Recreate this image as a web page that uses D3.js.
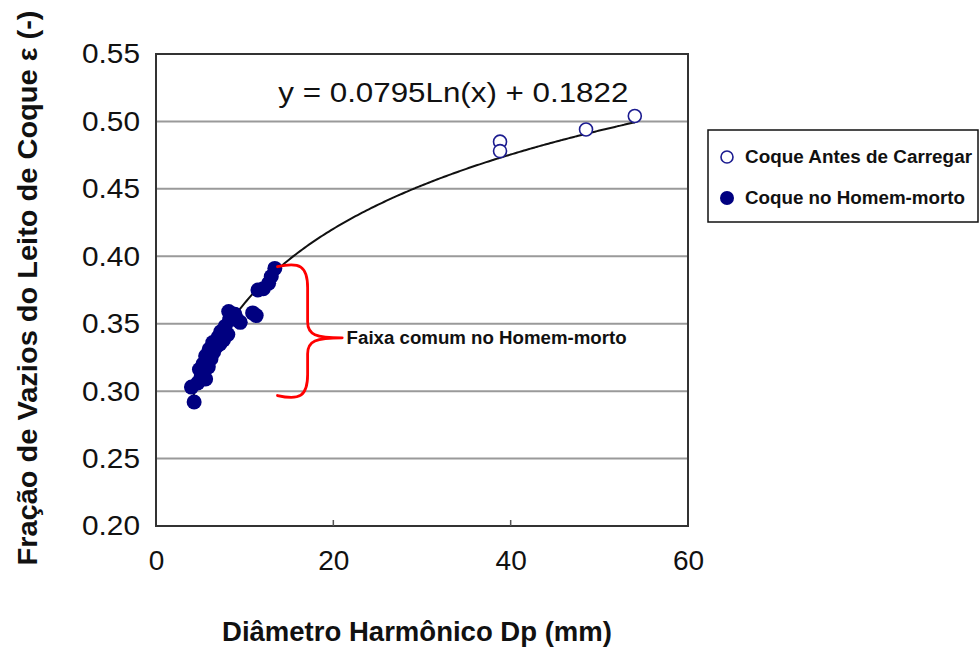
<!DOCTYPE html>
<html>
<head>
<meta charset="utf-8">
<script src="https://cdn.jsdelivr.net/npm/d3@7"></script>
<style>
  html, body { margin: 0; padding: 0; background: #fff; }
  svg { display: block; font-family: "Liberation Sans", Arial, sans-serif; }
</style>
</head>
<body>
<svg id="chart" width="980" height="648"></svg>
<script>
// Coke bed void fraction vs. harmonic diameter
const xTicks = [0, 20, 40, 60];
const yTicks = [0.20, 0.25, 0.30, 0.35, 0.40, 0.45, 0.50, 0.55];

// Coke before charging (open markers)
const chargedX = [38.8, 38.8, 48.5, 54.0];
const chargedY = [0.485, 0.478, 0.494, 0.504];

// Deadman coke (filled markers)
const deadmanX = [4.3, 4.0, 4.7, 5.1, 5.6, 4.9, 5.3, 5.9, 5.6, 6.2, 6.5, 6.0, 6.8, 6.4,
                  7.2, 7.0, 7.6, 7.3, 8.1, 7.8, 8.3, 8.2, 9.1, 9.5, 8.9, 10.9, 11.3,
                  11.5, 12.1, 12.7, 13.0, 13.4];
const deadmanY = [0.292, 0.303, 0.306, 0.311, 0.309, 0.316, 0.320, 0.318, 0.326, 0.324,
                  0.329, 0.331, 0.333, 0.336, 0.335, 0.340, 0.338, 0.344, 0.342, 0.348,
                  0.353, 0.359, 0.353, 0.351, 0.357, 0.358, 0.356, 0.375, 0.376, 0.380,
                  0.385, 0.391];

// Logarithmic fit: y = a ln(x) + b
const fitA = 0.0795, fitB = 0.1822;
const fitRange = [4.0, 54.0];

// Bracket marking the usual deadman range
const braceYRange = [0.296, 0.393];

const svg = d3.select("#chart");
const plot = { left: 156, top: 54, width: 532, height: 472 };

const x = d3.scaleLinear().domain([0, 60]).range([plot.left, plot.left + plot.width]);
const y = d3.scaleLinear().domain([0.20, 0.55]).range([plot.top + plot.height, plot.top]);

const navy = "#000080";
const font = "'Liberation Sans', Arial, sans-serif";

// Horizontal gridlines
svg.append("g")
  .selectAll("line")
  .data(yTicks.filter(v => v > 0.2 && v < 0.55))
  .join("line")
  .attr("x1", x(0)).attr("x2", x(60))
  .attr("y1", d => y(d)).attr("y2", d => y(d))
  .attr("stroke", "#9a9a9a").attr("stroke-width", 2);

// Plot frame
svg.append("rect")
  .attr("x", x(0)).attr("y", y(0.55))
  .attr("width", x(60) - x(0)).attr("height", y(0.20) - y(0.55))
  .attr("fill", "none").attr("stroke", "#333").attr("stroke-width", 2);

// Y axis labels
const yAxis = svg.append("g")
  .attr("transform", `translate(${x(0)},0)`)
  .call(d3.axisLeft(y).tickValues(yTicks).tickFormat(d3.format(".2f")).tickSize(0).tickPadding(16));
yAxis.select(".domain").remove();
yAxis.selectAll("text")
  .attr("font-size", 28).attr("fill", "#111").attr("font-family", font)
  .attr("textLength", 58).attr("lengthAdjust", "spacingAndGlyphs");

// X axis labels and inner ticks
const xAxis = svg.append("g")
  .attr("transform", `translate(0,${y(0.20)})`)
  .call(d3.axisBottom(x).tickValues(xTicks).tickFormat(d3.format("d")).tickSize(0).tickPadding(24));
xAxis.select(".domain").remove();
xAxis.selectAll("text")
  .attr("font-size", 28).attr("fill", "#111").attr("font-family", font);
svg.append("g")
  .selectAll("line")
  .data(xTicks.filter(v => v > 0 && v < 60))
  .join("line")
  .attr("x1", d => x(d)).attr("x2", d => x(d))
  .attr("y1", y(0.20)).attr("y2", y(0.20) - 6)
  .attr("stroke", "#555").attr("stroke-width", 1.5);

// Fitted curve
const fitPts = d3.range(fitRange[0], fitRange[1] + 0.001, 0.25).map(v => [v, fitA * Math.log(v) + fitB]);
svg.append("path")
  .datum(fitPts)
  .attr("d", d3.line().x(d => x(d[0])).y(d => y(d[1])).curve(d3.curveBasis))
  .attr("fill", "none").attr("stroke", "#111").attr("stroke-width", 2);

// Deadman coke points
svg.append("g")
  .selectAll("circle")
  .data(deadmanX.map((v, i) => [v, deadmanY[i]]))
  .join("circle")
  .attr("cx", d => x(d[0])).attr("cy", d => y(d[1]))
  .attr("r", 7.5).attr("fill", navy);

// Coke before charging points
svg.append("g")
  .selectAll("circle")
  .data(chargedX.map((v, i) => [v, chargedY[i]]))
  .join("circle")
  .attr("cx", d => x(d[0])).attr("cy", d => y(d[1]))
  .attr("r", 6.5).attr("fill", "#fff").attr("stroke", "#1c1c90").attr("stroke-width", 1.6);

// Curly bracket
const xa = x(13.7), xb = x(17.1), xt = x(21.0);
const yT = y(braceYRange[1]), yB = y(braceYRange[0]), yM = y(0.3395);
const brace = `M${xa},${yT + 1} C${xa + 22},${yT - 4} ${xb},${yT} ${xb},${yT + 22}
  L${xb},${yM - 16} C${xb},${yM - 3} ${xb + 8},${yM} ${xt},${yM}
  M${xt},${yM} C${xb + 8},${yM} ${xb},${yM + 3} ${xb},${yM + 16}
  L${xb},${yB - 22} C${xb},${yB} ${xa + 22},${yB + 4} ${xa},${yB - 1}`;
svg.append("path")
  .attr("d", brace)
  .attr("fill", "none").attr("stroke", "#ff0000").attr("stroke-width", 2.8)
  .attr("stroke-linecap", "round");

svg.append("text")
  .attr("x", x(21.5)).attr("y", yM)
  .attr("dominant-baseline", "central")
  .attr("font-size", 18).attr("font-weight", "bold").attr("fill", "#111")
  .attr("textLength", 280).attr("lengthAdjust", "spacingAndGlyphs")
  .text("Faixa comum no Homem-morto");

// Regression equation
svg.append("text")
  .attr("x", x(13.8)).attr("y", y(0.5145))
  .attr("font-size", 27).attr("fill", "#111")
  .attr("textLength", 350).attr("lengthAdjust", "spacingAndGlyphs")
  .text("y = 0.0795Ln(x) + 0.1822");

// Axis titles
svg.append("text")
  .attr("transform", "translate(417,641)")
  .attr("text-anchor", "middle")
  .attr("font-size", 27).attr("font-weight", "bold").attr("fill", "#111")
  .attr("textLength", 390).attr("lengthAdjust", "spacingAndGlyphs")
  .text("Diâmetro Harmônico Dp (mm)");

svg.append("text")
  .attr("transform", "translate(37,288) rotate(-90)")
  .attr("text-anchor", "middle")
  .attr("font-size", 27).attr("font-weight", "bold").attr("fill", "#111")
  .attr("textLength", 555).attr("lengthAdjust", "spacingAndGlyphs")
  .text("Fração de Vazios do Leito de Coque ε (-)");

// Legend
const legend = svg.append("g").attr("transform", "translate(708,130)");
legend.append("rect")
  .attr("width", 270).attr("height", 92)
  .attr("fill", "#fff").attr("stroke", "#111").attr("stroke-width", 1.5);
const legendItems = [
  { label: "Coque Antes de Carregar", filled: false, dy: 27, len: 227 },
  { label: "Coque no Homem-morto", filled: true, dy: 68, len: 220 }
];
legendItems.forEach(it => {
  legend.append("circle")
    .attr("cx", 19).attr("cy", it.dy).attr("r", it.filled ? 7 : 6)
    .attr("fill", it.filled ? navy : "#fff")
    .attr("stroke", it.filled ? "none" : "#1c1c90").attr("stroke-width", 1.6);
  legend.append("text")
    .attr("x", 37).attr("y", it.dy)
    .attr("dominant-baseline", "central")
    .attr("font-size", 18).attr("font-weight", "bold").attr("fill", "#111")
    .attr("textLength", it.len).attr("lengthAdjust", "spacingAndGlyphs")
    .text(it.label);
});
</script>
</body>
</html>
